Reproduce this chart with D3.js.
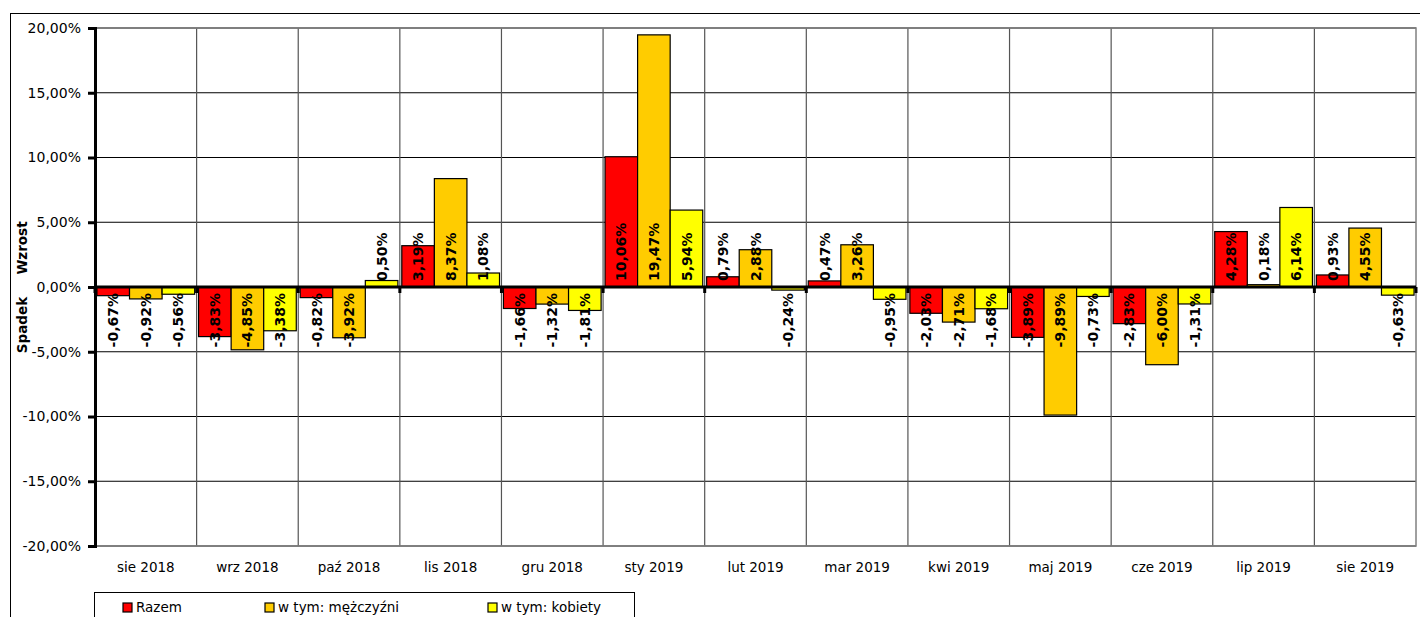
<!DOCTYPE html>
<html>
<head>
<meta charset="utf-8">
<script src="https://cdn.jsdelivr.net/npm/d3@7"></script>
<style>
  body { margin: 0; background: #fff; }
  svg { font-family: "DejaVu Sans", Verdana, sans-serif; }
</style>
</head>
<body>
<div id="chart"></div>
<script>
var months = ["sie 2018", "wrz 2018", "paź 2018", "lis 2018", "gru 2018", "sty 2019", "lut 2019",
              "mar 2019", "kwi 2019", "maj 2019", "cze 2019", "lip 2019", "sie 2019"];
var seriesNames = ["Razem", "w tym: mężczyźni", "w tym: kobiety"];
var razem =    [-0.67, -3.83, -0.82, 3.19, -1.66, 10.06, 0.79, 0.47, -2.03, -3.89, -2.83, 4.28, 0.93];
var mezczyzni = [-0.92, -4.85, -3.92, 8.37, -1.32, 19.47, 2.88, 3.26, -2.71, -9.89, -6.00, 0.18, 4.55];
var kobiety =  [-0.56, -3.38, 0.50, 1.08, -1.81, 5.94, -0.24, -0.95, -1.68, -0.73, -1.31, 6.14, -0.63];
var yTicks = [-20, -15, -10, -5, 0, 5, 10, 15, 20];
var colors = ["#ff0000", "#ffcc00", "#ffff00"];

var seriesValues = [razem, mezczyzni, kobiety];

var width = 1420, height = 617;
var plot = {left: 95, right: 1416, top: 28, bottom: 546};

var svg = d3.select("#chart").append("svg")
  .attr("width", width)
  .attr("height", height);

// outer frame (cut off at right and bottom)
svg.append("rect")
  .attr("x", 10.5).attr("y", 13.5)
  .attr("width", 1500).attr("height", 700)
  .attr("fill", "none").attr("stroke", "#000");

var x = d3.scaleBand().domain(months).range([plot.left, plot.right]);
var xs = d3.scaleBand().domain(d3.range(seriesNames.length))
  .range([0, x.bandwidth()]).paddingOuter(0.06);
var y = d3.scaleLinear().domain([-20, 20]).range([plot.bottom, plot.top]);

// polish style: comma decimal, plain hyphen for minus
var fmt = function(v) {
  return d3.format(".2f")(v).replace(".", ",").replace("\u2212", "-") + "%";
};

// horizontal grid
svg.append("g").selectAll("line")
  .data(yTicks).enter().append("line")
  .attr("x1", plot.left).attr("x2", plot.right)
  .attr("y1", function(d) { return y(d); })
  .attr("y2", function(d) { return y(d); })
  .attr("stroke", "#000").attr("stroke-width", 1.2);

// vertical grid at category boundaries
svg.append("g").selectAll("line")
  .data(months.slice(1)).enter().append("line")
  .attr("x1", function(d) { return x(d); })
  .attr("x2", function(d) { return x(d); })
  .attr("y1", plot.top).attr("y2", plot.bottom)
  .attr("stroke", "#555").attr("stroke-width", 1.2);

// plot border
svg.append("rect")
  .attr("x", plot.left).attr("y", plot.top)
  .attr("width", plot.right - plot.left).attr("height", plot.bottom - plot.top)
  .attr("fill", "none").attr("stroke", "#808080").attr("stroke-width", 1.5);

// bars
var groups = svg.append("g").selectAll("g")
  .data(months).enter().append("g")
  .attr("transform", function(d) { return "translate(" + x(d) + ",0)"; });

groups.selectAll("rect")
  .data(function(d, i) { return seriesValues.map(function(s, j) { return {s: j, v: s[i]}; }); })
  .enter().append("rect")
  .attr("x", function(d) { return xs(d.s); })
  .attr("width", xs.bandwidth())
  .attr("y", function(d) { return y(Math.max(0, d.v)); })
  .attr("height", function(d) { return Math.abs(y(d.v) - y(0)); })
  .attr("fill", function(d) { return colors[d.s]; })
  .attr("stroke", "#000").attr("stroke-width", 1.2);

// zero line and x ticks
svg.append("line")
  .attr("x1", plot.left).attr("x2", plot.right)
  .attr("y1", y(0)).attr("y2", y(0))
  .attr("stroke", "#000").attr("stroke-width", 3);

svg.append("g").selectAll("line")
  .data(months.concat(["end"])).enter().append("line")
  .attr("x1", function(d, i) { return plot.left + i * x.step(); })
  .attr("x2", function(d, i) { return plot.left + i * x.step(); })
  .attr("y1", y(0)).attr("y2", y(0) + 6)
  .attr("stroke", "#000").attr("stroke-width", 3);

// value labels
groups.selectAll("text")
  .data(function(d, i) { return seriesValues.map(function(s, j) { return {s: j, v: s[i]}; }); })
  .enter().append("text")
  .attr("transform", function(d) {
    var ty = d.v >= 0 ? y(0) - 6 : y(0) + 6;
    return "translate(" + (xs(d.s) + xs.bandwidth() / 2) + "," + ty + ") rotate(-90)";
  })
  .attr("dy", "0.36em")
  .attr("text-anchor", function(d) { return d.v >= 0 ? "start" : "end"; })
  .style("font-size", "14px")
  .style("font-weight", "bold")
  .attr("fill", "#000")
  .text(function(d) { return fmt(d.v); });

// y axis
var yAxis = svg.append("g")
  .attr("transform", "translate(" + plot.left + ",0)")
  .call(d3.axisLeft(y).tickValues(yTicks).tickFormat(fmt).tickSize(7).tickPadding(7));
yAxis.select(".domain").attr("stroke", "#000").attr("stroke-width", 3);
yAxis.selectAll(".tick line").attr("stroke", "#000").attr("stroke-width", 3);
yAxis.selectAll("text").style("font-size", "14px").attr("fill", "#000")
  .style("font-family", "DejaVu Sans, Verdana, sans-serif");

// x axis labels
var xAxis = svg.append("g")
  .attr("transform", "translate(0," + plot.bottom + ")")
  .call(d3.axisBottom(x).tickSize(0).tickPadding(16));
xAxis.select(".domain").remove();
xAxis.selectAll("text").style("font-size", "13.5px").attr("fill", "#000")
  .style("font-family", "DejaVu Sans, Verdana, sans-serif");

// axis titles
svg.append("text")
  .attr("transform", "translate(22,248) rotate(-90)")
  .attr("text-anchor", "middle").attr("dy", "0.35em")
  .style("font-size", "13.5px").style("font-weight", "bold")
  .text("Wzrost");
svg.append("text")
  .attr("transform", "translate(22,325) rotate(-90)")
  .attr("text-anchor", "middle").attr("dy", "0.35em")
  .style("font-size", "13.5px").style("font-weight", "bold")
  .text("Spadek");

// legend
svg.append("rect")
  .attr("x", 94.5).attr("y", 592.5)
  .attr("width", 540).attr("height", 60)
  .attr("fill", "#fff").attr("stroke", "#000");

var legendX = [123, 265, 488];
var legend = svg.append("g").selectAll("g")
  .data(seriesNames).enter().append("g")
  .attr("transform", function(d, i) { return "translate(" + legendX[i] + ",603)"; });
legend.append("rect")
  .attr("width", 9).attr("height", 9)
  .attr("fill", function(d, i) { return colors[i]; })
  .attr("stroke", "#000").attr("stroke-width", 1.2);
legend.append("text")
  .attr("x", 13).attr("y", 4.5).attr("dy", "0.35em")
  .style("font-size", "13.5px")
  .text(function(d) { return d; });
</script>
</body>
</html>
